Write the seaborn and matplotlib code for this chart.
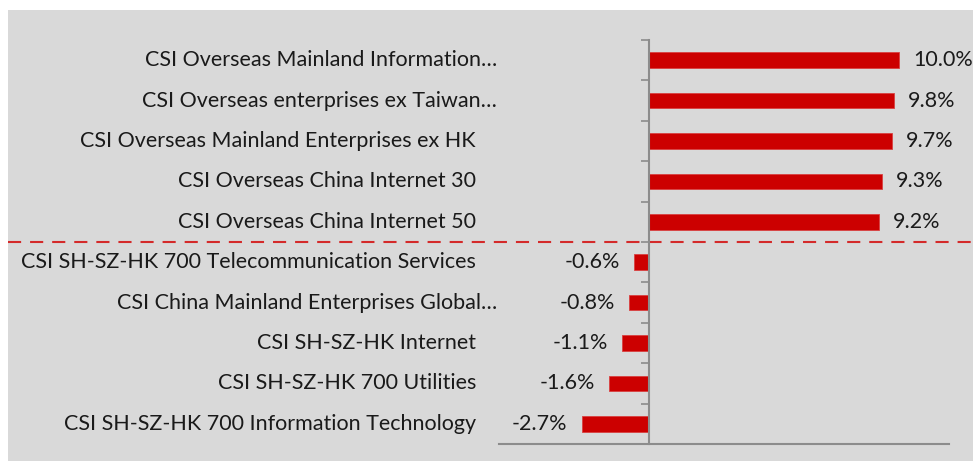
import matplotlib.pyplot as plt
import matplotlib.transforms as mtransforms
from matplotlib.patches import Rectangle
import seaborn as sns
import pandas as pd

# data
indices = ["CSI Overseas Mainland Information…",
           "CSI Overseas enterprises ex Taiwan…",
           "CSI Overseas Mainland Enterprises ex HK",
           "CSI Overseas China Internet 30",
           "CSI Overseas China Internet 50",
           "CSI SH-SZ-HK 700 Telecommunication Services",
           "CSI China Mainland Enterprises Global…",
           "CSI SH-SZ-HK Internet",
           "CSI SH-SZ-HK 700 Utilities",
           "CSI SH-SZ-HK 700 Information Technology"]
returns = [10.0, 9.8, 9.7, 9.3, 9.2, -0.6, -0.8, -1.1, -1.6, -2.7]

df = pd.DataFrame({"index": indices, "ret": returns})

sns.set_style("white")
plt.rcParams['font.family'] = ['Lato', 'DejaVu Sans']

W, H = 973, 463
fig = plt.figure(figsize=(W / 100, H / 100), dpi=100, facecolor="white")
# grey panel behind the chart
fig.patches.append(Rectangle((8 / W, 2 / H), (W - 8) / W, (461 - 10) / H,
                             transform=fig.transFigure, facecolor="#d9d9d9",
                             edgecolor="none", zorder=-10))
ax = fig.add_axes([499 / W, (H - 444) / H, 450 / W, 404 / H])
ax.set_facecolor("none")

sns.barplot(data=df, x="ret", y="index", orient="h", color="#cc0000",
            saturation=1, width=0.39, edgecolor="#d84040", linewidth=0.6,
            ax=ax)

ax.set_xlim(-6, 12)
ax.set_ylim(len(indices) - 0.5, -0.5)
ax.set_xlabel("")
ax.set_ylabel("")
ax.set_xticks([])
ax.set_yticks([])
ax.set_yticks([i - 0.5 for i in range(len(indices) + 1)], minor=True)
ax.tick_params(axis="y", which="minor", length=5.5, width=1.2,
               color="#8c8c8c", direction="out", left=True)

for s in ["top", "right"]:
    ax.spines[s].set_visible(False)
ax.spines["left"].set_position(("data", 0))
ax.spines["left"].set_color("#8c8c8c")
ax.spines["left"].set_linewidth(1.5)
ax.spines["bottom"].set_color("#8c8c8c")
ax.spines["bottom"].set_linewidth(1.5)

# category names, right aligned left of the plot area
trans = mtransforms.blended_transform_factory(fig.transFigure, ax.transData)
for i, name in enumerate(indices):
    xr = 497 if name.endswith("…") else 476
    ax.text(xr / W, i, name, transform=trans, ha="right", va="center",
            fontsize=15.5, color="#1a1a1a")

ax.bar_label(ax.containers[0], labels=[f"{v:.1f}%" for v in returns],
             padding=10, fontsize=15.5, color="#1a1a1a")

# dashed divider between the two groups
ax.axhline(4.5, xmin=-1.092, xmax=1.06, color="#d42a2a", lw=1.5,
           dashes=(6.3, 4.3), clip_on=False)

fig.savefig("out.png", dpi=100, facecolor="white")
